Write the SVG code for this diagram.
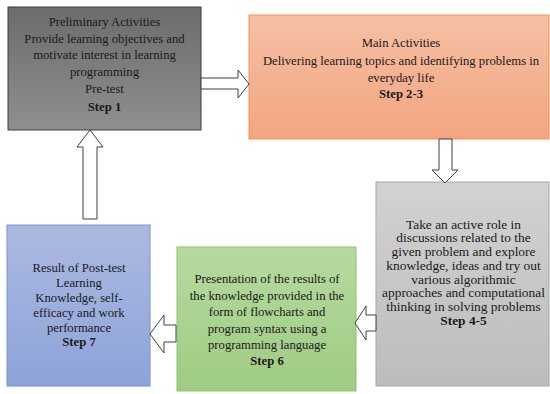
<svg xmlns="http://www.w3.org/2000/svg" width="550" height="394" viewBox="0 0 550 394">
<defs>
<linearGradient id="gGray" x1="0" y1="0" x2="0" y2="1"><stop offset="0" stop-color="#6c6c6c"/><stop offset="1" stop-color="#8f8f8f"/></linearGradient>
<linearGradient id="gOrange" x1="0" y1="0" x2="0" y2="1"><stop offset="0" stop-color="#f5c0a5"/><stop offset="1" stop-color="#f4a57f"/></linearGradient>
<linearGradient id="gLight" x1="0" y1="0" x2="0" y2="1"><stop offset="0" stop-color="#d2d2d2"/><stop offset="1" stop-color="#bcbcbc"/></linearGradient>
<linearGradient id="gGreen" x1="0" y1="0" x2="0" y2="1"><stop offset="0" stop-color="#b7da9f"/><stop offset="1" stop-color="#9fcb83"/></linearGradient>
<linearGradient id="gBlue" x1="0" y1="0" x2="0" y2="1"><stop offset="0" stop-color="#acbae1"/><stop offset="1" stop-color="#8da3d9"/></linearGradient>
</defs>
<style>
text{font-family:"Liberation Serif","Times New Roman","DejaVu Serif",serif;fill:#1a1a1a;text-anchor:middle}
.f1{font-size:12.7px}
.f3{font-size:13.4px}
.b{font-weight:bold}
.arrow{fill:#ffffff;stroke:#404040;stroke-width:1}
</style>
<rect width="550" height="394" fill="#ffffff"/>
<g id="node-step1">
<rect x="8" y="7" width="193" height="123" fill="url(#gGray)" stroke="#3c3c3c" stroke-width="1"/>
<text class="f1" x="104.5" y="25.5">Preliminary Activities</text>
<text class="f1" x="104.5" y="42.5">Provide learning objectives and</text>
<text class="f1" x="104.5" y="58.5">motivate interest in learning</text>
<text class="f1" x="104.5" y="75.5">programming</text>
<text class="f1" x="104.5" y="92.5">Pre-test</text>
<text class="f1 b" x="104.5" y="110.5">Step 1</text>
</g>
<g id="node-step2-3">
<rect x="249" y="15" width="300" height="124" fill="url(#gOrange)" stroke="#f0935a" stroke-width="1"/>
<text class="f1" x="401" y="47">Main Activities</text>
<text class="f1" x="401" y="64.5">Delivering learning topics and identifying problems in</text>
<text class="f1" x="401" y="81.5">everyday life</text>
<text class="f1 b" x="401" y="98">Step 2-3</text>
</g>
<g id="node-step4-5">
<rect x="376" y="182" width="173" height="204" fill="url(#gLight)" stroke="#a8a8a8" stroke-width="1"/>
<text class="f3" x="463.5" y="228.7">Take an active role in</text>
<text class="f3" x="463.5" y="242.4">discussions related to the</text>
<text class="f3" x="463.5" y="256.1">given problem and explore</text>
<text class="f3" x="463.5" y="269.8">knowledge, ideas and try out</text>
<text class="f3" x="463.5" y="283.5">various algorithmic</text>
<text class="f3" x="463.5" y="297.2">approaches and computational</text>
<text class="f3" x="463.5" y="310.9">thinking in solving problems</text>
<text class="f3 b" x="463.5" y="324.6">Step 4-5</text>
</g>
<g id="node-step6">
<rect x="177" y="247" width="179" height="144" fill="url(#gGreen)" stroke="#8fc36e" stroke-width="1"/>
<text class="f1" x="267" y="283">Presentation of the results of</text>
<text class="f1" x="267" y="299.5">the knowledge provided in the</text>
<text class="f1" x="267" y="316">form of flowcharts and</text>
<text class="f1" x="267" y="332.5">program syntax using a</text>
<text class="f1" x="267" y="349">programming language</text>
<text class="f1 b" x="267" y="365">Step 6</text>
</g>
<g id="node-step7">
<rect x="7" y="225" width="143" height="161" fill="url(#gBlue)" stroke="#7893d2" stroke-width="1"/>
<text class="f1" x="79" y="271.5">Result of Post-test</text>
<text class="f1" x="79" y="286.5">Learning</text>
<text class="f1" x="79" y="301.5">Knowledge, self-</text>
<text class="f1" x="79" y="316.5">efficacy and work</text>
<text class="f1" x="79" y="331.5">performance</text>
<text class="f1 b" x="79" y="345.5">Step 7</text>
</g>
<g id="connectors">
<polygon class="arrow" points="201,78 238,78 238,70 249,84 238,98 238,89 201,89"/>
<polygon class="arrow" points="439,139 452,139 452,170 458,170 445,183 432,170 439,170"/>
<polygon class="arrow" points="376,315 366,315 366,306 355,323 366,340 366,331 376,331"/>
<polygon class="arrow" points="176,325 164,325 164,315 150,334 164,353 164,342 176,342"/>
<polygon class="arrow" points="83,219 83,147 77,147 90,130 103,147 97,147 97,219"/>
</g>
</svg>
